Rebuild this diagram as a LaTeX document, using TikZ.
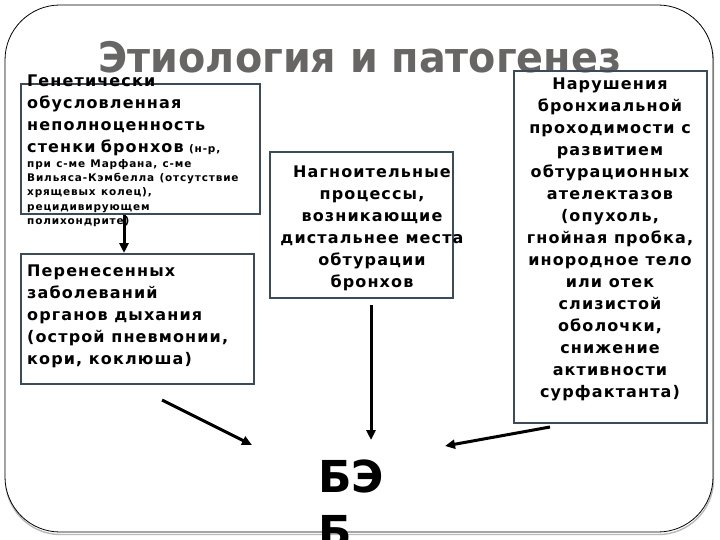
\documentclass[tikz,border=0pt]{standalone}
\usepackage{fontspec}
\setmainfont{DejaVu Sans}
\newfontfamily\boxfont[LetterSpace=7]{DejaVu Sans}
\newfontfamily\smallboxfont[LetterSpace=8]{DejaVu Sans}
\newfontfamily\titlefont[FakeStretch=0.945]{DejaVu Sans}
\usepackage{tikz}
\usetikzlibrary{calc,positioning,arrows.meta}
\usepackage{xcolor}
\definecolor{boxline}{RGB}{60,75,90}
\definecolor{titlegray}{RGB}{104,101,101}
\newcommand{\smallnote}{\smallboxfont\bfseries\fontsize{10.5}{14.3}\selectfont}
\tikzset{
  box/.style={
    draw=boxline,
    rectangle,
    line width=2.4pt,
    inner sep=0pt,
    anchor=north west,
  },
  boxtext/.style={
    inner sep=0pt,
    font=\boxfont\bfseries\fontsize{16}{22}\selectfont,
  },
  titletext/.style={
    inner sep=0pt,
    text=titlegray,
    font=\titlefont\bfseries\fontsize{42}{50}\selectfont,
  },
  arrow/.style={line width=3pt, -{Triangle[length=10pt,width=9pt]}},
}

\begin{document}
\begin{tikzpicture}[x=1pt,y=-1pt]
  \useasboundingbox (0,0) rectangle (720,540);
  \clip (0,0) rectangle (720,540);
  % slide frame with its shadow
  \draw[gray!55, line width=1.4pt, rounded corners=55pt] (5.5,7) rectangle (713.5,534.5);
  \draw[fill=white, line width=0.8pt, rounded corners=55pt] (5,5) rectangle (713,532);
  \node[titletext, anchor=base] (title) at (360,73) {Этиология и патогенез};

  % boxes
  \node[box, minimum width=239, minimum height=130] (genet) at (20,83) {};
  \node[box, minimum width=233, minimum height=130] (infect) at (20,253) {};
  \node[box, minimum width=183, minimum height=146] (suppur) at (269,151) {};
  \node[box, minimum width=193, minimum height=352] (obtur) at (513,70) {};

  \node[boxtext, anchor=north west, text width=236, align=left] (genettxt) at (27,75) {%
    Генетически\\
    обусловленная\\
    неполноценность\\
    стенки бронхов {\smallnote (н-р,}\par
    \smallnote
    при с-ме Марфана, с-ме\\
    Вильяса-Кэмбелла (отсутствие\\
    хрящевых колец),\\
    рецидивирующем\\
    полихондрите)\par};
  \node[boxtext, anchor=north west, align=left] (infecttxt) at (27,265) {%
    Перенесенных\\
    заболеваний\\
    органов дыхания\\
    (острой пневмонии,\\
    кори, коклюша)};
  \node[boxtext, anchor=north, align=center] (suppurtxt) at (372,166) {%
    Нагноительные\\
    процессы,\\
    возникающие\\
    дистальнее места\\
    обтурации\\
    бронхов};
  \node[boxtext, anchor=north, align=center] (obturtxt) at (610,78) {%
    Нарушения\\
    бронхиальной\\
    проходимости с\\
    развитием\\
    обтурационных\\
    ателектазов\\
    (опухоль,\\
    гнойная пробка,\\
    инородное тело\\
    или отек\\
    слизистой\\
    оболочки,\\
    снижение\\
    активности\\
    сурфактанта)};

  % result
  \node[inner sep=0pt, anchor=north west, align=left,
        font=\bfseries\fontsize{44}{55}\selectfont] (beb) at (318,460) {БЭ\\Б};

  % arrows
  \coordinate (gx) at (124,0);
  \coordinate (tailL) at (162,400);
  \coordinate (tipL) at (252,445);
  \coordinate (tipM) at (371,440);
  \coordinate (tailR) at (550,427);
  \coordinate (tipR) at (445,446);
  \draw[arrow] (genet.south -| gx) -- (infect.north -| gx);
  \draw[arrow] (tailL) -- (tipL);
  \draw[arrow, shorten <=6pt] (suppur.south -| tipM) -- (tipM);
  \draw[arrow] (tailR) -- (tipR);
\end{tikzpicture}
\end{document}
